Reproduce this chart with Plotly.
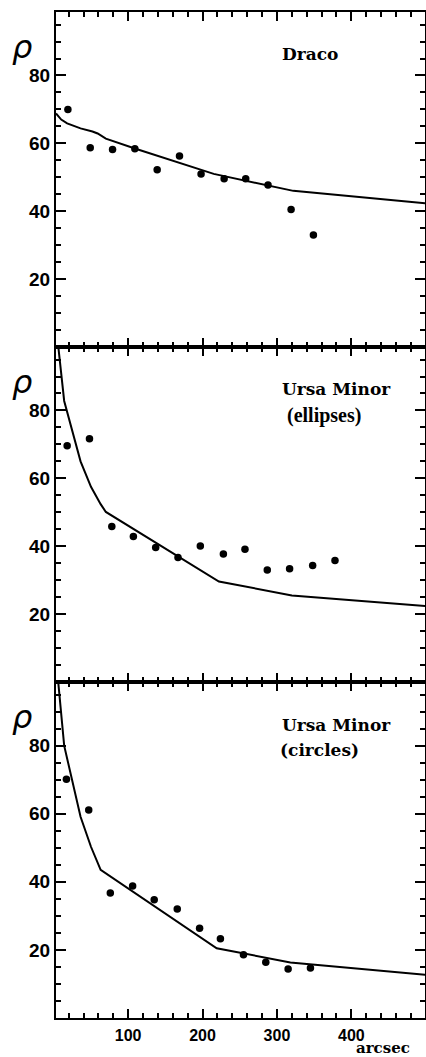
import plotly.graph_objects as go

# ---- data ----
draco_x = [19, 49, 79, 109, 139, 169, 198, 229, 258, 288, 319, 349]
draco_y = [70.0, 58.7, 58.2, 58.4, 52.2, 56.3, 51.0, 49.6, 49.6, 47.7, 40.5, 33.0]
draco_mx = [3, 10, 18, 36, 52, 59, 70, 110, 215, 288, 322, 500]
draco_my = [68.8, 67.0, 65.9, 64.4, 63.5, 62.9, 61.4, 58.4, 51.0, 47.7, 46.0, 42.3]

umie_x = [18, 48, 78, 107, 137, 167, 197, 228, 257, 287, 317, 348, 378]
umie_y = [69.6, 71.7, 45.8, 42.9, 39.6, 36.7, 40.1, 37.7, 39.1, 33.0, 33.4, 34.3, 35.8]
umie_mx = [5, 14, 36, 50, 63, 70, 222, 320, 500]
umie_my = [101, 82.8, 65.0, 57.5, 52.4, 50.1, 29.6, 25.5, 22.4]

umic_x = [17, 47, 76, 106, 135, 166, 196, 224, 255, 285, 315, 345]
umic_y = [70.1, 61.1, 36.7, 38.8, 34.7, 32.0, 26.4, 23.3, 18.6, 16.4, 14.4, 14.7]
umic_mx = [5, 14, 36, 50, 63, 219, 318, 500]
umic_my = [101, 80, 59.1, 50.3, 43.5, 20.5, 16.3, 12.7]

x_ticks = [100, 200, 300, 400]
y_ticks = [20, 40, 60, 80]
X_RANGE = [3, 499]
Y_RANGE = [0, 98.7]

panels = [
    (draco_x, draco_y, draco_mx, draco_my, ["Draco"]),
    (umie_x, umie_y, umie_mx, umie_my, ["Ursa Minor", "(ellipses)"]),
    (umic_x, umic_y, umic_mx, umic_my, ["Ursa Minor", "(circles)"]),
]
domains = [[0.667, 1.0], [0.334, 0.667], [0.0, 0.334]]

fig = go.Figure()
layout = {}
annotations = []
for i, (px, py, mx, my, title) in enumerate(panels):
    n = i + 1
    xa = "x" if n == 1 else f"x{n}"
    ya = "y" if n == 1 else f"y{n}"
    fig.add_trace(go.Scatter(x=mx, y=my, mode="lines", xaxis=xa, yaxis=ya,
                             line=dict(color="black", width=2), showlegend=False))
    fig.add_trace(go.Scatter(x=px, y=py, mode="markers", xaxis=xa, yaxis=ya,
                             marker=dict(color="black", size=7.5), showlegend=False))
    xkey = "xaxis" if n == 1 else f"xaxis{n}"
    ykey = "yaxis" if n == 1 else f"yaxis{n}"
    xd = dict(domain=[0, 1], anchor=ya, range=X_RANGE, tickmode="array",
              tickvals=x_ticks, ticktext=[f"<b>{v}</b>" for v in x_ticks],
              showticklabels=(n == 3), ticklabelstandoff=2,
              ticks="inside", ticklen=9, tickwidth=2,
              tickcolor="black", showline=True, linewidth=2, linecolor="black",
              mirror="ticks", showgrid=False, zeroline=False,
              minor=dict(dtick=20, tick0=0, ticks="inside", ticklen=5,
                         tickwidth=2, tickcolor="black", showgrid=False),
              tickfont=dict(family="Liberation Sans", size=16, color="black"))
    yd = dict(domain=domains[i], anchor=xa, range=Y_RANGE, tickmode="array",
              tickvals=y_ticks, ticktext=[f"<b>{v}</b>" for v in y_ticks],
              ticks="inside", ticklen=10, tickwidth=2,
              tickcolor="black", showline=True, linewidth=2, linecolor="black",
              mirror="ticks", showgrid=False, zeroline=False,
              minor=dict(dtick=5, tick0=0, ticks="inside", ticklen=5,
                         tickwidth=2, tickcolor="black", showgrid=False),
              tickfont=dict(family="Liberation Sans", size=19, color="black"))
    layout[xkey] = xd
    layout[ykey] = yd
    annotations.append(dict(text="<i>ρ</i>", xref="paper", yref=f"{ya} domain",
                            x=-0.092, y=0.895, xanchor="center", yanchor="middle",
                            showarrow=False,
                            font=dict(family="DejaVu Sans", size=32, color="black")))
    annotations.append(dict(text=f"<b>{title[0]}</b>", xref=xa, yref=ya, x=304, y=86.2,
                            xanchor="left", yanchor="middle", showarrow=False,
                            font=dict(family="DejaVu Serif", size=17, color="black")))
    if len(title) > 1:
        annotations.append(dict(text=f"<b>{title[1]}</b>", xref=xa, yref=ya,
                                x=311 if n == 2 else 301, y=78.6,
                                xanchor="left", yanchor="middle", showarrow=False,
                                font=dict(family="Liberation Serif" if n == 2 else "DejaVu Serif",
                                          size=20 if n == 2 else 17, color="black")))

annotations.append(dict(text="<b>arcsec</b>", xref="paper", yref="paper", x=0.885,
                        y=-0.0295, xanchor="center", yanchor="middle", showarrow=False,
                        borderpad=0,
                        font=dict(family="DejaVu Serif", size=15, color="black")))

fig.update_layout(
    width=426, height=1057,
    margin=dict(l=56, r=1, t=12, b=39, autoexpand=False),
    paper_bgcolor="white", plot_bgcolor="white",
    annotations=annotations,
    showlegend=False,
    **layout,
)

fig.write_html("out.html")
